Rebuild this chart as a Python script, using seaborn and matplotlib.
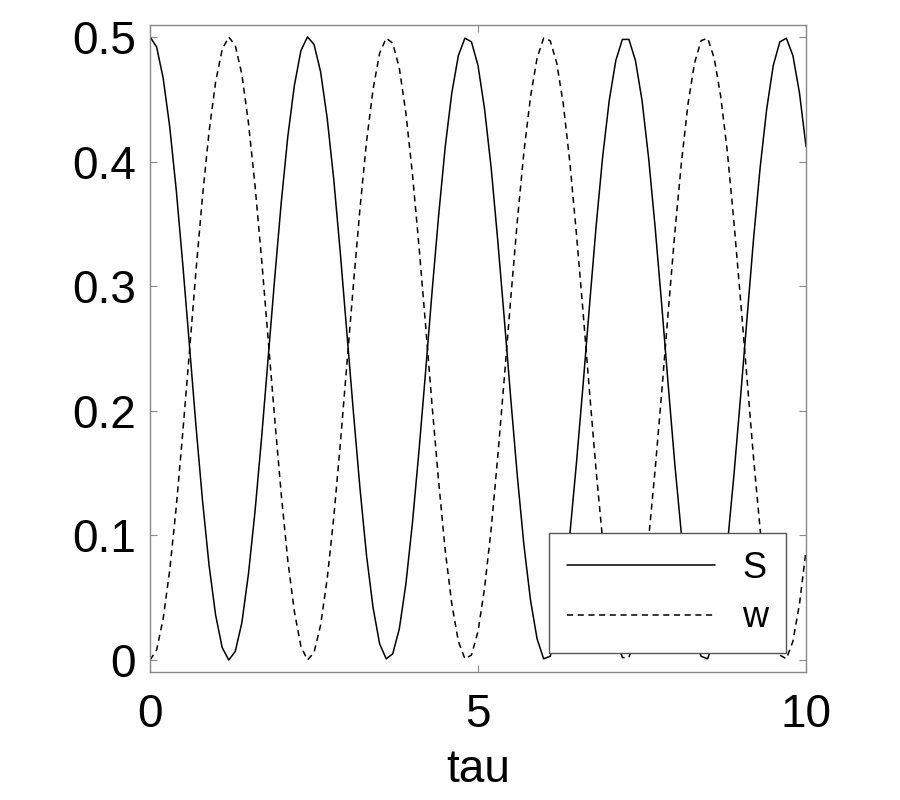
import numpy as np
import pandas as pd
import matplotlib
matplotlib.use("Agg")
import matplotlib.pyplot as plt
import seaborn as sns

# tau grid, step 0.1 from 0 to 10
tau = np.linspace(0, 10, 101)

s_vals = [0.500, 0.492, 0.467, 0.428, 0.377, 0.317, 0.253, 0.188, 0.128, 0.076,
          0.036, 0.010, 0.000, 0.007, 0.030, 0.069, 0.119, 0.178, 0.242, 0.306,
          0.367, 0.420, 0.461, 0.489, 0.500, 0.494, 0.472, 0.435, 0.386, 0.327,
          0.263, 0.199, 0.138, 0.084, 0.042, 0.013, 0.001, 0.005, 0.025, 0.061,
          0.110, 0.168, 0.231, 0.296, 0.357, 0.412, 0.455, 0.485, 0.499, 0.496,
          0.477, 0.442, 0.395, 0.337, 0.274, 0.209, 0.147, 0.092, 0.048, 0.017,
          0.001, 0.003, 0.021, 0.054, 0.101, 0.158, 0.220, 0.285, 0.348, 0.404,
          0.449, 0.481, 0.498, 0.498, 0.481, 0.449, 0.403, 0.347, 0.285, 0.220,
          0.157, 0.101, 0.054, 0.021, 0.003, 0.001, 0.017, 0.048, 0.092, 0.148,
          0.210, 0.274, 0.338, 0.395, 0.442, 0.477, 0.496, 0.499, 0.485, 0.455,
          0.412]

w_vals = [0.000, 0.008, 0.033, 0.072, 0.123, 0.183, 0.247, 0.312, 0.372, 0.424,
          0.464, 0.490, 0.500, 0.493, 0.470, 0.431, 0.381, 0.322, 0.258, 0.194,
          0.133, 0.080, 0.039, 0.011, 0.000, 0.006, 0.028, 0.065, 0.114, 0.173,
          0.237, 0.301, 0.362, 0.416, 0.458, 0.487, 0.499, 0.495, 0.475, 0.439,
          0.390, 0.332, 0.269, 0.204, 0.143, 0.088, 0.045, 0.015, 0.001, 0.004,
          0.023, 0.058, 0.105, 0.163, 0.226, 0.291, 0.353, 0.408, 0.452, 0.483,
          0.499, 0.497, 0.479, 0.446, 0.399, 0.342, 0.280, 0.215, 0.152, 0.096,
          0.051, 0.019, 0.002, 0.002, 0.019, 0.051, 0.097, 0.153, 0.215, 0.280,
          0.343, 0.399, 0.446, 0.479, 0.497, 0.499, 0.483, 0.452, 0.408, 0.352,
          0.290, 0.226, 0.162, 0.105, 0.058, 0.023, 0.004, 0.001, 0.015, 0.045,
          0.088]

series_names = ["S", "w"]

df = pd.DataFrame({"tau": tau, "S": s_vals, "w": w_vals})

sns.set_style("ticks")
plt.rcParams["font.family"] = ["Liberation Sans", "DejaVu Sans"]
plt.rcParams["text.color"] = "black"
plt.rcParams["axes.labelcolor"] = "black"
plt.rcParams["xtick.labelcolor"] = "black"
plt.rcParams["ytick.labelcolor"] = "black"

fig = plt.figure(figsize=(9, 8), dpi=100)
ax = fig.add_axes([0.1667, 0.16, 0.7289, 0.8088])

sns.lineplot(data=df, x="tau", y="S", ax=ax, color="black", linewidth=1.1,
             label=series_names[0])
sns.lineplot(data=df, x="tau", y="w", ax=ax, color="black", linewidth=1.1,
             linestyle=(0, (4, 3)), label=series_names[1])

ax.set_xlim(0, 10)
ax.set_ylim(-0.0096, 0.5096)
ax.set_xticks([0, 5, 10])
ax.set_yticks([0, 0.1, 0.2, 0.3, 0.4, 0.5])
ax.set_yticklabels(["0", "0.1", "0.2", "0.3", "0.4", "0.5"])
ax.set_xlabel("tau", fontsize=33, labelpad=8, color="black")
ax.set_ylabel("")

ax.tick_params(axis="both", direction="in", length=5, width=0.8, color="#888888",
               labelsize=33, labelcolor="black", top=True, right=True)
ax.tick_params(axis="x", pad=15)
ax.tick_params(axis="y", pad=10)
for sp in ax.spines.values():
    sp.set_color("#888888")
    sp.set_linewidth(1.0)

leg = ax.legend(loc="lower right", bbox_to_anchor=(0.970, 0.029), fontsize=26,
                handlelength=4.1, handletextpad=0.75, borderpad=0.5,
                labelspacing=0.4, fancybox=False, framealpha=1, borderaxespad=0)
leg.get_frame().set_edgecolor("#555555")
leg.get_frame().set_linewidth(1.0)
for h in leg.get_lines():
    h.set_linewidth(1.1)
for t in leg.get_texts():
    t.set_color("black")

fig.savefig("out.png", dpi=100)
